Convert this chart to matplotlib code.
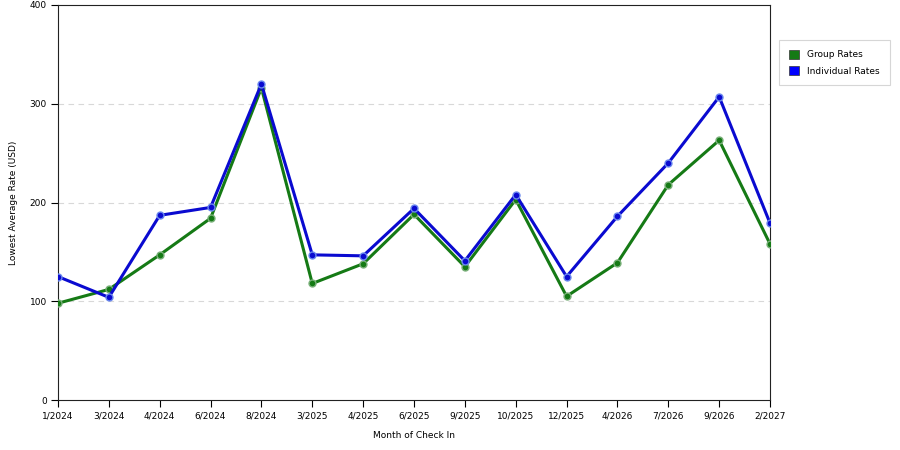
#!/usr/bin/env python3
"""Lowest average rate by month of check in — group vs individual."""
import matplotlib
matplotlib.use("Agg")
import matplotlib.pyplot as plt
from matplotlib.patches import Patch

months = ["1/2024", "3/2024", "4/2024", "6/2024", "8/2024", "3/2025", "4/2025",
          "6/2025", "9/2025", "10/2025", "12/2025", "4/2026", "7/2026", "9/2026", "2/2027"]
group_rates = [98, 112, 147, 184, 316, 118, 138, 188, 135, 203, 105, 139, 218, 263, 158]
individual_rates = [125, 104, 187, 195, 320, 147, 146, 194, 141, 208, 125, 186, 240, 307, 179]

color_g = "#157a15"
color_i = "#0a0ad0"

plt.rcParams["font.family"] = ["DejaVu Sans"]

fig = plt.figure(figsize=(9, 4.5), dpi=100)
ax = fig.add_axes([0.0644, 0.111, 0.7912, 0.878])

x = list(range(len(months)))
ax.plot(x, group_rates, "-", color=color_g, linewidth=2.2, zorder=3)
ax.plot(x, group_rates, "o", color=color_g, markersize=5, markeredgecolor="#7ab07a",
        markeredgewidth=1, zorder=4)
ax.plot(x, individual_rates, "-", color=color_i, linewidth=2.2, zorder=5)
ax.plot(x, individual_rates, "o", color=color_i, markersize=5, markeredgecolor="#6a88ee",
        markeredgewidth=1, zorder=6)

ax.set_xlim(0, len(months) - 1)
ax.set_ylim(0, 400)
ax.set_xticks(x)
ax.set_xticklabels(months, fontsize=6.5)
ax.set_yticks([0, 100, 200, 300, 400])
ax.tick_params(axis="both", labelsize=6.5, length=5, width=0.8, direction="out", pad=3)
for y in (100, 200, 300):
    ax.axhline(y, color="#d8d8d8", linestyle=(0, (5, 4)), linewidth=0.8, zorder=1)
for s in ax.spines.values():
    s.set_linewidth(0.8)
    s.set_color("#222222")

ax.set_xlabel("Month of Check In", fontsize=6.5, labelpad=8)
ax.set_ylabel("Lowest Average Rate (USD)", fontsize=6.5, labelpad=8)

handles = [Patch(facecolor=color_g, edgecolor="#333333", linewidth=0.5, label="Group Rates"),
           Patch(facecolor="#0000ff", edgecolor="#333333", linewidth=0.5, label="Individual Rates")]
leg = fig.legend(handles=handles, loc="upper left", bbox_to_anchor=(0.8656, 0.911),
                 borderaxespad=0, fontsize=6.5, frameon=True, fancybox=False,
                 handlelength=1.1, handleheight=1.1, handletextpad=0.9,
                 borderpad=1.1, labelspacing=0.75)
leg.get_frame().set_edgecolor("#cccccc")
leg.get_frame().set_linewidth(0.8)

fig.savefig("out.png", dpi=100)
